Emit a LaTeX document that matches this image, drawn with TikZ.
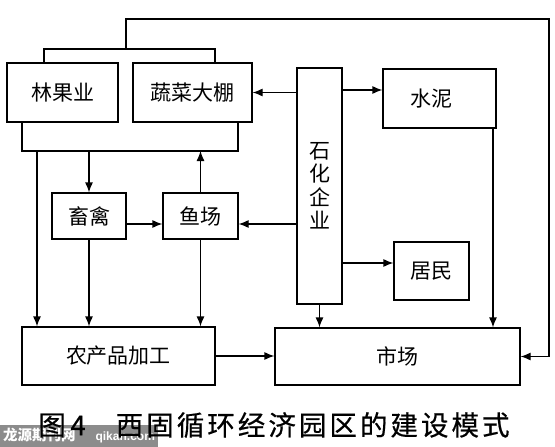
\documentclass[tikz,border=0pt]{standalone}
\usepackage{fontspec}
\setmainfont{Noto Sans CJK SC}
\newfontfamily\latinsans{Liberation Sans}
\newfontfamily\capfont[LetterSpace=11,FakeBold=0.5]{Noto Sans CJK SC}
\usetikzlibrary{arrows.meta}
\begin{document}
\begin{tikzpicture}[x=1pt,y=-1pt,line width=1.2pt,
  box/.style={draw,line width=1.2pt,inner sep=0pt,font=\fontsize{21}{23.5}\selectfont,align=center},
  arr/.style={-{Latex[length=10pt,width=8pt]}},
  lnk/.style={line width=1.2pt}]
\useasboundingbox (0,0) rectangle (555,447);
% boxes
\node[box,minimum width=111pt,minimum height=59pt] (lgy) at (62.5,92.5) {林果业};
\node[box,minimum width=119pt,minimum height=59pt] (sc) at (192.5,92.5) {蔬菜大棚};
\node[box,minimum width=74pt,minimum height=46pt] (xq) at (89,216) {畜禽};
\node[box,minimum width=75pt,minimum height=46pt] (yc) at (200.5,216) {鱼场};
\node[box,minimum width=193pt,minimum height=58pt] (nc) at (118.5,356) {农产品加工};
\node[box,minimum width=45pt,minimum height=236pt] (sh) at (319.5,186) {石\\化\\企\\业};
\node[box,minimum width=113pt,minimum height=59pt] (sn) at (439.5,98.5) {\hspace*{-16pt}水泥};
\node[box,minimum width=75pt,minimum height=58pt] (jm) at (431.5,271) {居民};
\node[box,minimum width=245pt,minimum height=57pt] (mk) at (397.5,356.5) {市场};
% helper coordinates
\coordinate (ta) at (44,49);
\coordinate (tb) at (215,49);
\coordinate (tc) at (126,49);
\coordinate (td) at (126,19);
\coordinate (te) at (549,19);
\coordinate (ba) at (22,151);
\coordinate (bb) at (238,151);
\coordinate (bc) at (37,151);
\coordinate (s1) at (342,90);
\coordinate (s2) at (342,263);
\coordinate (s3) at (493,135);
\coordinate (y2) at ([yshift=-8pt]yc.east);
% connectors
\draw[lnk] (ta |- lgy.north) -- (ta) -- (tb) -- (tb |- sc.north);
\draw[lnk,arr] (tc) -- (td) -- (te) |- (mk.east);
\draw[lnk] (ba |- lgy.south) -- (ba) -- (bb) -- (bb |- sc.south);
\draw[lnk,arr] (xq.north |- ba) -- (xq.north);
\draw[lnk,arr] (yc.north) -- (yc.north |- ba);
\draw[lnk,arr] (bc) -- (bc |- nc.north);
\draw[lnk,arr] (xq.south) -- (xq.south |- nc.north);
\draw[lnk,arr] (yc.south) -- (yc.south |- nc.north);
\draw[lnk,arr] ([yshift=-8pt]xq.east) -- ([yshift=-8pt]yc.west);
\draw[lnk,arr] (nc.east) -- (nc.east -| mk.west);
\draw[lnk,arr] (sh.west |- sc.east) -- (sc.east);
\draw[lnk,arr] (sh.west |- y2) -- (y2);
\draw[lnk,arr] (sh.east |- s1) -- (sn.west |- s1);
\draw[lnk,arr] (sh.east |- s2) -- (jm.west |- s2);
\draw[lnk,arr] (sh.south) -- (sh.south |- mk.north);
\draw[lnk,arr] (sn.south -| s3) -- (s3 |- mk.north);
% watermark
\node[fill=black!45,minimum width=158pt,minimum height=22pt,inner sep=0pt,text=white] (wm) at (79,436)
  {\fontsize{14.5}{15}\selectfont\bfseries 龙源期刊网\hspace{20pt}{\latinsans\fontsize{12}{13}\selectfont qikan.com}};
% caption
\node[inner sep=0pt] (cap) at (274,425) {\capfont\fontsize{27.5}{28}\selectfont 图\,4\hspace{30pt}西固循环经济园区的建设模式};
\end{tikzpicture}
\end{document}
